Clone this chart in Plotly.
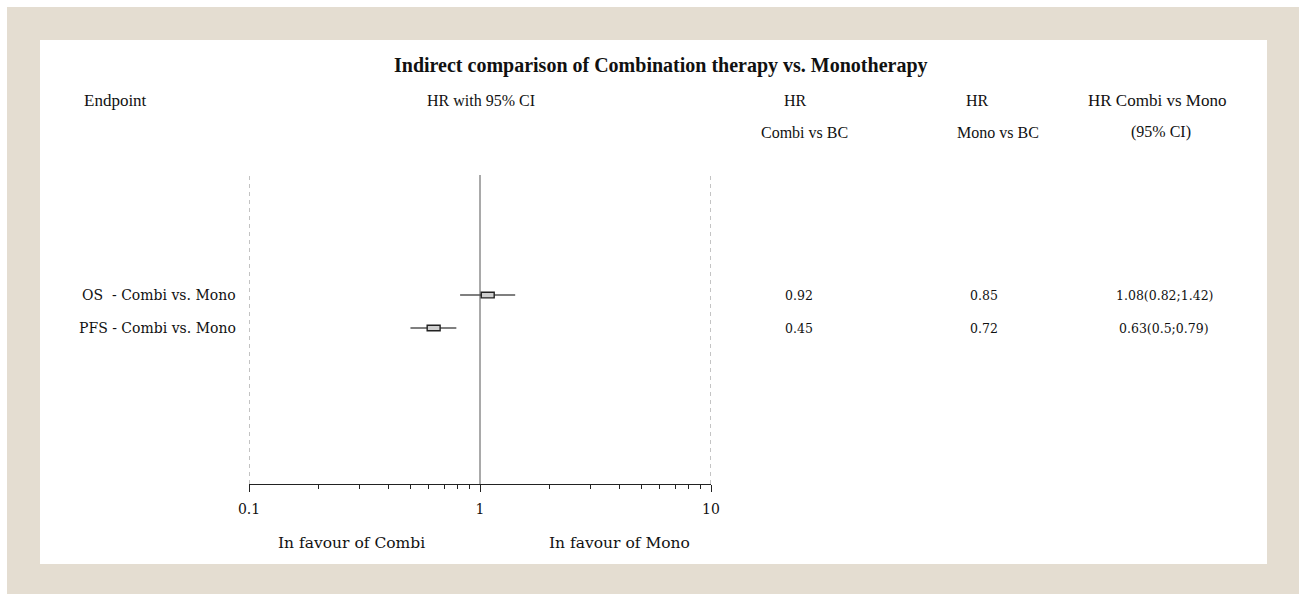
import plotly.graph_objects as go

# ---- data ----
endpoints = ["OS  - Combi vs. Mono", "PFS - Combi vs. Mono"]
hr_combi_bc = [0.92, 0.45]
hr_mono_bc = [0.85, 0.72]
hr_est = [1.08, 0.63]
hr_lo = [0.82, 0.5]
hr_hi = [1.42, 0.79]
tick_vals = [0.1, 1, 10]
tick_text = ["0.1", "1", "10"]

W, H = 1299, 594
SERIF = "Liberation Serif"
SLAB = "DejaVu Serif"

def px(x):
    return x / W

def py(y):
    return 1 - y / H

rows = list(range(len(endpoints)))

fig = go.Figure()

# beige frame and inner white panel (drawn first, below everything)
fig.add_shape(type="rect", xref="paper", yref="paper",
              x0=px(7), x1=1, y0=0, y1=py(7),
              fillcolor="#e4ddd1", line=dict(width=0), layer="below")
fig.add_shape(type="rect", xref="paper", yref="paper",
              x0=px(40), x1=px(1267), y0=py(564), y1=py(40),
              fillcolor="white", line=dict(width=0), layer="below")

# reference lines
fig.add_shape(type="line", xref="x", yref="y domain", x0=1, x1=1, y0=0, y1=1,
              line=dict(color="#555555", width=1), layer="below")
for v in (0.1, 10):
    fig.add_shape(type="line", xref="x", yref="y domain", x0=v, x1=v, y0=0, y1=1,
                  line=dict(color="#888888", width=1, dash="4px,4px"), layer="below")

# CI whiskers
for i in rows:
    fig.add_trace(go.Scatter(
        x=[hr_lo[i], hr_hi[i]], y=[i, i], mode="lines",
        line=dict(color="#555555", width=1.5), showlegend=False, hoverinfo="skip"))

# point estimate boxes (small rectangles around the estimate)
half_w = 10 ** 0.028
for i in rows:
    fig.add_shape(type="rect", xref="x", yref="y",
                  x0=hr_est[i] / half_w, x1=hr_est[i] * half_w,
                  y0=i - 0.085, y1=i + 0.085,
                  fillcolor="#cfcfcf", line=dict(color="#222222", width=1.4), layer="above")

ann = []
def txt(x, y, s, size=14, font=SERIF, xanchor="center", bold=False, yref="paper"):
    ann.append(dict(x=x, y=y, xref="paper", yref=yref, text=("<b>%s</b>" % s) if bold else s,
                    showarrow=False, xanchor=xanchor, yanchor="middle",
                    font=dict(family=font, size=size, color="#111111")))

txt(px(661), py(65), "Indirect comparison of Combination therapy vs. Monotherapy", size=20, bold=True)
txt(px(82), py(101), "Endpoint", size=17, xanchor="left")
txt(px(481), py(101), "HR with 95% CI", size=16)
txt(px(795), py(101), "HR", size=16)
txt(px(804), py(132), "Combi vs BC", size=16)
txt(px(977), py(101), "HR", size=16)
txt(px(998), py(132), "Mono vs BC", size=16)
txt(px(1157), py(101), "HR Combi vs Mono", size=17)
txt(px(1161), py(132), "(95% CI)", size=16)
txt(px(352), py(543), "In favour of Combi", size=15.5, font=SLAB)
txt(px(619), py(543), "In favour of Mono", size=15.5, font=SLAB)

for i in rows:
    txt(px(238), i, endpoints[i], size=14, font=SLAB, xanchor="right", yref="y")
    txt(px(799), i, f"{hr_combi_bc[i]}", size=12.5, font=SLAB, yref="y")
    txt(px(984), i, f"{hr_mono_bc[i]}", size=12.5, font=SLAB, yref="y")
    txt(px(1164), i, f"{hr_est[i]}({hr_lo[i]};{hr_hi[i]})", size=12.5, font=SLAB, yref="y")

fig.update_layout(
    width=W, height=H,
    margin=dict(l=0, r=0, t=0, b=0),
    paper_bgcolor="white", plot_bgcolor="rgba(0,0,0,0)",
    showlegend=False,
    annotations=ann,
    xaxis=dict(type="log", range=[-1, 1], domain=[px(249), px(711)],
               tickvals=tick_vals, ticktext=tick_text, ticks="outside", ticklen=7,
               ticklabelstandoff=5,
               tickcolor="#222222", showline=True, linecolor="#222222", linewidth=1.3,
               showgrid=False, zeroline=False, anchor="y", automargin=False,
               tickfont=dict(family=SLAB, size=14, color="#111111"),
               minor=dict(ticks="outside", ticklen=4, tickcolor="#222222",
                          tickvals=[0.2, 0.3, 0.4, 0.5, 0.6, 0.7, 0.8, 0.9,
                                    2, 3, 4, 5, 6, 7, 8, 9], showgrid=False)),
    yaxis=dict(range=[5.73, -3.64], domain=[py(484), py(175)], visible=False,
               showgrid=False, zeroline=False, automargin=False),
)

fig.write_html("out.html", config={"displayModeBar": False},
               post_script="document.body.style.margin='0';document.body.style.overflow='hidden';")
